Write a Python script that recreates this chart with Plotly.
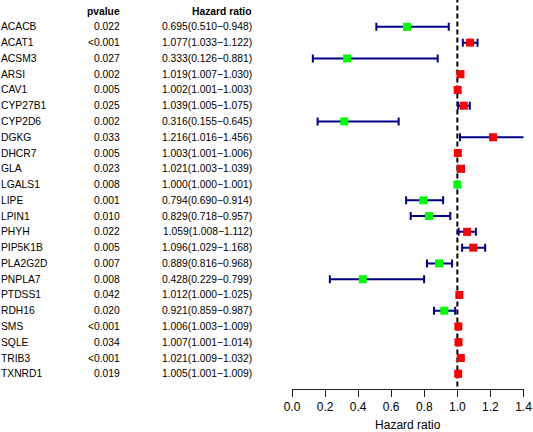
import plotly.graph_objects as go

genes = ["ACACB", "ACAT1", "ACSM3", "ARSI", "CAV1", "CYP27B1", "CYP2D6", "DGKG",
         "DHCR7", "GLA", "LGALS1", "LIPE", "LPIN1", "PHYH", "PIP5K1B", "PLA2G2D",
         "PNPLA7", "PTDSS1", "RDH16", "SMS", "SQLE", "TRIB3", "TXNRD1"]
pvalues = ["0.022", "<0.001", "0.027", "0.002", "0.005", "0.025", "0.002", "0.033",
           "0.005", "0.023", "0.008", "0.001", "0.010", "0.022", "0.005", "0.007",
           "0.008", "0.042", "0.020", "<0.001", "0.034", "<0.001", "0.019"]
hr = [0.695, 1.077, 0.333, 1.019, 1.002, 1.039, 0.316, 1.216, 1.003, 1.021, 1.000,
      0.794, 0.829, 1.059, 1.096, 0.889, 0.428, 1.012, 0.921, 1.006, 1.007, 1.021, 1.005]
lower = [0.510, 1.033, 0.126, 1.007, 1.001, 1.005, 0.155, 1.016, 1.001, 1.003, 1.000,
         0.690, 0.718, 1.008, 1.029, 0.816, 0.229, 1.000, 0.859, 1.003, 1.001, 1.009, 1.001]
upper = [0.948, 1.122, 0.881, 1.030, 1.003, 1.075, 0.645, 1.456, 1.006, 1.039, 1.001,
         0.914, 0.957, 1.112, 1.168, 0.968, 0.799, 1.025, 0.987, 1.009, 1.014, 1.032, 1.009]
xticks = [0.0, 0.2, 0.4, 0.6, 0.8, 1.0, 1.2, 1.4]

W, H = 533, 432
FONT = "Liberation Sans, Arial, sans-serif"
FS = 10.3

rows = list(range(len(genes)))
hr_text = [f"{h:.3f}({l:.3f}\u2212{u:.3f})" for h, l, u in zip(hr, lower, upper)]
colors = ["#FF0000" if h > 1 else "#00FF00" for h in hr]

fig = go.Figure()

# forest plot
fig.add_trace(go.Scatter(
    x=hr, y=rows, mode="markers",
    marker=dict(symbol="square", size=8, color=colors, line=dict(width=0)),
    error_x=dict(type="data", symmetric=False,
                 array=[u - h for u, h in zip(upper, hr)],
                 arrayminus=[h - l for h, l in zip(hr, lower)],
                 color="#00008B", thickness=2, width=4),
    cliponaxis=False, hoverinfo="skip", showlegend=False))

# text columns as annotations (x in pixels -> paper)
tfont = dict(family=FONT, size=FS, color="black")
annotations = []
def text_col(xpx, labels, anchor, yvals):
    for lab, yv in zip(labels, yvals):
        annotations.append(dict(x=xpx / W, xref="paper", y=yv, yref="y", text=lab,
                                xanchor=anchor, yanchor="middle", showarrow=False,
                                font=tfont, borderpad=0, borderwidth=0))

text_col(0.5, genes, "left", rows)
text_col(120, pvalues, "right", rows)
text_col(252, hr_text, "right", rows)
text_col(120, ["<b>pvalue</b>"], "right", [-1])
text_col(252, ["<b>Hazard ratio</b>"], "right", [-1])

plot_left, plot_right = 292, 523.5
axis_px = 389.5
bottom_px = H - axis_px
row0_px, row_step = 26.9, 15.79
y_top = -row0_px / row_step
y_bot = (axis_px - row0_px) / row_step

fig.add_shape(type="line", xref="x", yref="paper", x0=1, x1=1,
              y0=(axis_px - 387) / axis_px, y1=1,
              line=dict(color="black", width=2, dash="5px,3px"), layer="below")

fig.update_layout(
    template="none",
    width=W, height=H,
    margin=dict(l=0, r=0, t=0, b=bottom_px, pad=0, autoexpand=False),
    paper_bgcolor="white", plot_bgcolor="white",
    font=dict(family=FONT, color="black"),
    annotations=annotations,
    xaxis=dict(domain=[plot_left / W, plot_right / W], range=[0, 1.4],
               tickvals=xticks, ticktext=[f"{v:.1f}" for v in xticks],
               showline=True, linecolor="#222", linewidth=1,
               ticks="outside", ticklen=7, tickcolor="#222", tickwidth=1,
               showgrid=False, zeroline=False, automargin=False,
               tickfont=dict(family=FONT, size=12, color="black"),
               title=dict(text="Hazard ratio", font=dict(family=FONT, size=12, color="black"),
                          standoff=13),
               fixedrange=True),
    yaxis=dict(range=[y_bot, y_top], visible=False, showgrid=False, zeroline=False,
               automargin=False, fixedrange=True),
)

fig.write_html("out.html", config={"displayModeBar": False, "responsive": False},
               post_script="document.body.style.margin='0';")
